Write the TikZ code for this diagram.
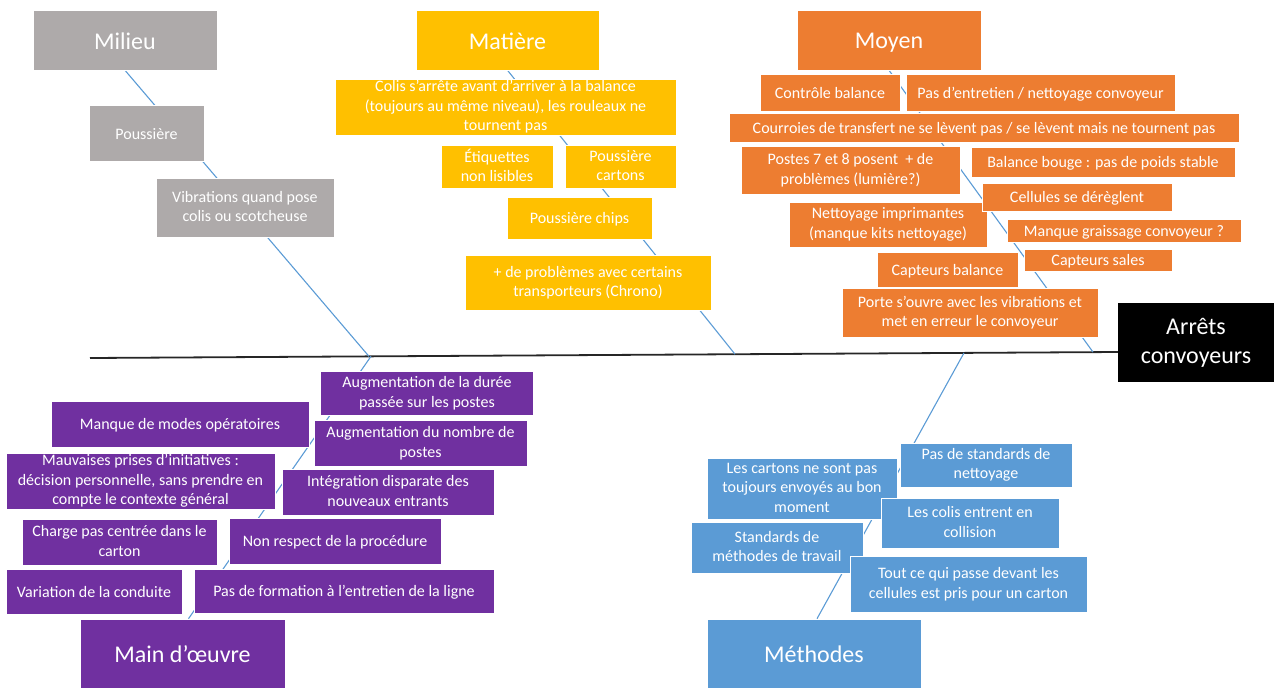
\documentclass[tikz,border=0pt]{standalone}
\usepackage{fontspec}
\setmainfont{Carlito}
\usetikzlibrary{backgrounds}

\definecolor{envgray}{HTML}{AEAAAA}
\definecolor{matgold}{HTML}{FFC000}
\definecolor{meanorange}{HTML}{ED7D31}
\definecolor{workpurple}{HTML}{7030A0}
\definecolor{methblue}{HTML}{5B9BD5}

\newcommand{\topstrut}{\rule{0pt}{0.9em}}
\newcommand{\botstrut}{\rule[-0.14em]{0pt}{0.14em}}

\begin{document}
\begin{tikzpicture}[x=1pt, y=-1pt,
    box/.style 2 args={
        draw=white,
        line width=0.6pt,
        text=white,
        align=center,
        inner sep=0pt,
        minimum width=#1pt,
        minimum height=#2pt,
        font=\fontsize{16}{19.5}\selectfont,
        execute at begin node=\topstrut,
        execute at end node=\botstrut
        },
    title/.style={font=\fontsize{24}{29}\selectfont},
    milieu/.style={fill=envgray},
    matiere/.style={fill=matgold},
    moyen/.style={fill=meanorange},
    mainoeuvre/.style={fill=workpurple},
    methode/.style={fill=methblue},
    effect/.style={fill=black, draw=none, font=\fontsize{24}{29}\selectfont},
    bone/.style={draw=methblue, line width=1.1pt},
    spine/.style={draw=black!85, line width=1.8pt}
]
\useasboundingbox (0,0) rectangle (1274,688);

% effect and spine
\node[box={156}{79}, effect] (arrets) at (1196,342.5) {Arrêts\\convoyeurs};
\coordinate (spinestart) at (90,358);
\coordinate (spineend) at (1118,352);

% Milieu
\node[box={184}{60}, milieu, title] (milieu) at (125,40) {Milieu};
\node[box={115}{56}, milieu] (poussiere) at (146.5,133) {Poussière};
\node[box={178}{59}, milieu] (vibrations) at (245,207.5) {Vibrations quand pose\\colis ou scotcheuse};

% Matiere
\node[box={183}{60}, matiere, title] (matiere) at (507.5,40) {Matière};
\node[box={341}{56}, matiere] (colis) at (505.5,107) {Colis s’arrête avant d’arriver à la balance\\(toujours au même niveau), les rouleaux ne\\tournent pas};
\node[box={112}{43}, matiere] (etiquettes) at (497,166.5) {Étiquettes\\non lisibles};
\node[box={111}{43}, matiere] (poucartons) at (620.5,166.5) {Poussière\\cartons};
\node[box={145}{42}, matiere] (pouchips) at (579.5,218) {Poussière chips};
\node[box={246}{55}, matiere] (transporteurs) at (588,282.5) {+ de problèmes avec certains\\transporteurs (Chrono)};

% Moyen
\node[box={184}{60}, moyen, title] (moyen) at (889,40) {Moyen};
\node[box={140}{37}, moyen] (controle) at (830,92.5) {Contrôle balance};
\node[box={269}{37}, moyen] (entretien) at (1040.5,92.5) {Pas d’entretien / nettoyage convoyeur};
\node[box={510}{29}, moyen] (courroies) at (984,127.5) {Courroies de transfert ne se lèvent pas / se lèvent mais ne tournent pas};
\node[box={219}{48}, moyen] (postes) at (850.5,170) {Postes 7 et 8 posent~ + de\\problèmes (lumière?)};
\node[box={264}{30}, moyen] (bouge) at (1103,162) {Balance bouge : pas de poids stable};
\node[box={198}{45}, moyen] (imprimantes) at (888,224.5) {Nettoyage imprimantes\\(manque kits nettoyage)};
\node[box={190}{28}, moyen] (cellules) at (1077,197) {Cellules se dérèglent};
\node[box={234}{23}, moyen] (graissage) at (1124,230.5) {Manque graissage convoyeur ?};
\node[box={148}{22}, moyen] (capsales) at (1098,260) {Capteurs sales};
\node[box={141}{35}, moyen] (capbalance) at (947.5,269.5) {Capteurs balance};
\node[box={256}{49}, moyen] (porte) at (970,312.5) {Porte s’ouvre avec les vibrations et\\met en erreur le convoyeur};

% Main d'oeuvre
\node[box={205}{69}, mainoeuvre, title] (mainoeuvre) at (182.5,653.5) {Main d’œuvre};
\node[box={213}{44}, mainoeuvre] (duree) at (427,393) {Augmentation de la durée\\passée sur les postes};
\node[box={258}{46}, mainoeuvre] (modes) at (180,424) {Manque de modes opératoires};
\node[box={213}{46}, mainoeuvre] (nombre) at (420.5,443) {Augmentation du nombre de\\postes};
\node[box={269}{56}, mainoeuvre] (initiatives) at (140.5,481) {Mauvaises prises d’initiatives :\\décision personnelle, sans prendre en\\compte le contexte général};
\node[box={212}{46}, mainoeuvre] (integration) at (388,492) {Intégration disparate des\\nouveaux entrants};
\node[box={195}{46}, mainoeuvre] (charge) at (119.5,542) {Charge pas centrée dans le\\carton};
\node[box={212}{46}, mainoeuvre] (procedure) at (335,541) {Non respect de la procédure};
\node[box={176}{45}, mainoeuvre] (conduite) at (94,591.5) {Variation de la conduite};
\node[box={300}{44}, mainoeuvre] (formation) at (344,591) {Pas de formation à l’entretien de la ligne};

% Methodes
\node[box={214}{69}, methode, title] (methodes) at (814,653.5) {Méthodes};
\node[box={172}{44}, methode] (standnet) at (986,465) {Pas de standards de\\nettoyage};
\node[box={190}{61}, methode] (cartons) at (802,488.5) {Les cartons ne sont pas\\toujours envoyés au bon\\moment};
\node[box={178}{50}, methode] (collision) at (970,523) {Les colis entrent en\\collision};
\node[box={172}{51}, methode] (standmeth) at (777,547.5) {Standards de\\méthodes de travail};
\node[box={237}{56}, methode] (toutce) at (968.5,584) {Tout ce qui passe devant les\\cellules est pris pour un carton};

% bones on the spine
\coordinate (milieuend) at (369,356.4);
\coordinate (matiereend) at (735,354.2);
\coordinate (moyenend) at (1093,352.1);
\coordinate (mainend) at (371,356.3);
\coordinate (methodesend) at (964,352.9);

\begin{scope}[on background layer]
\draw[spine] (spinestart) -- (spineend);
\draw[bone] (milieu.south) -- (milieuend);
\draw[bone] (matiere.south) -- (matiereend);
\draw[bone] (moyen.south) -- (moyenend);
\draw[bone] ([xshift=6pt]mainoeuvre.north) -- (mainend);
\draw[bone] ([xshift=3pt]methodes.north) -- (methodesend);
\end{scope}

\end{tikzpicture}
\end{document}
